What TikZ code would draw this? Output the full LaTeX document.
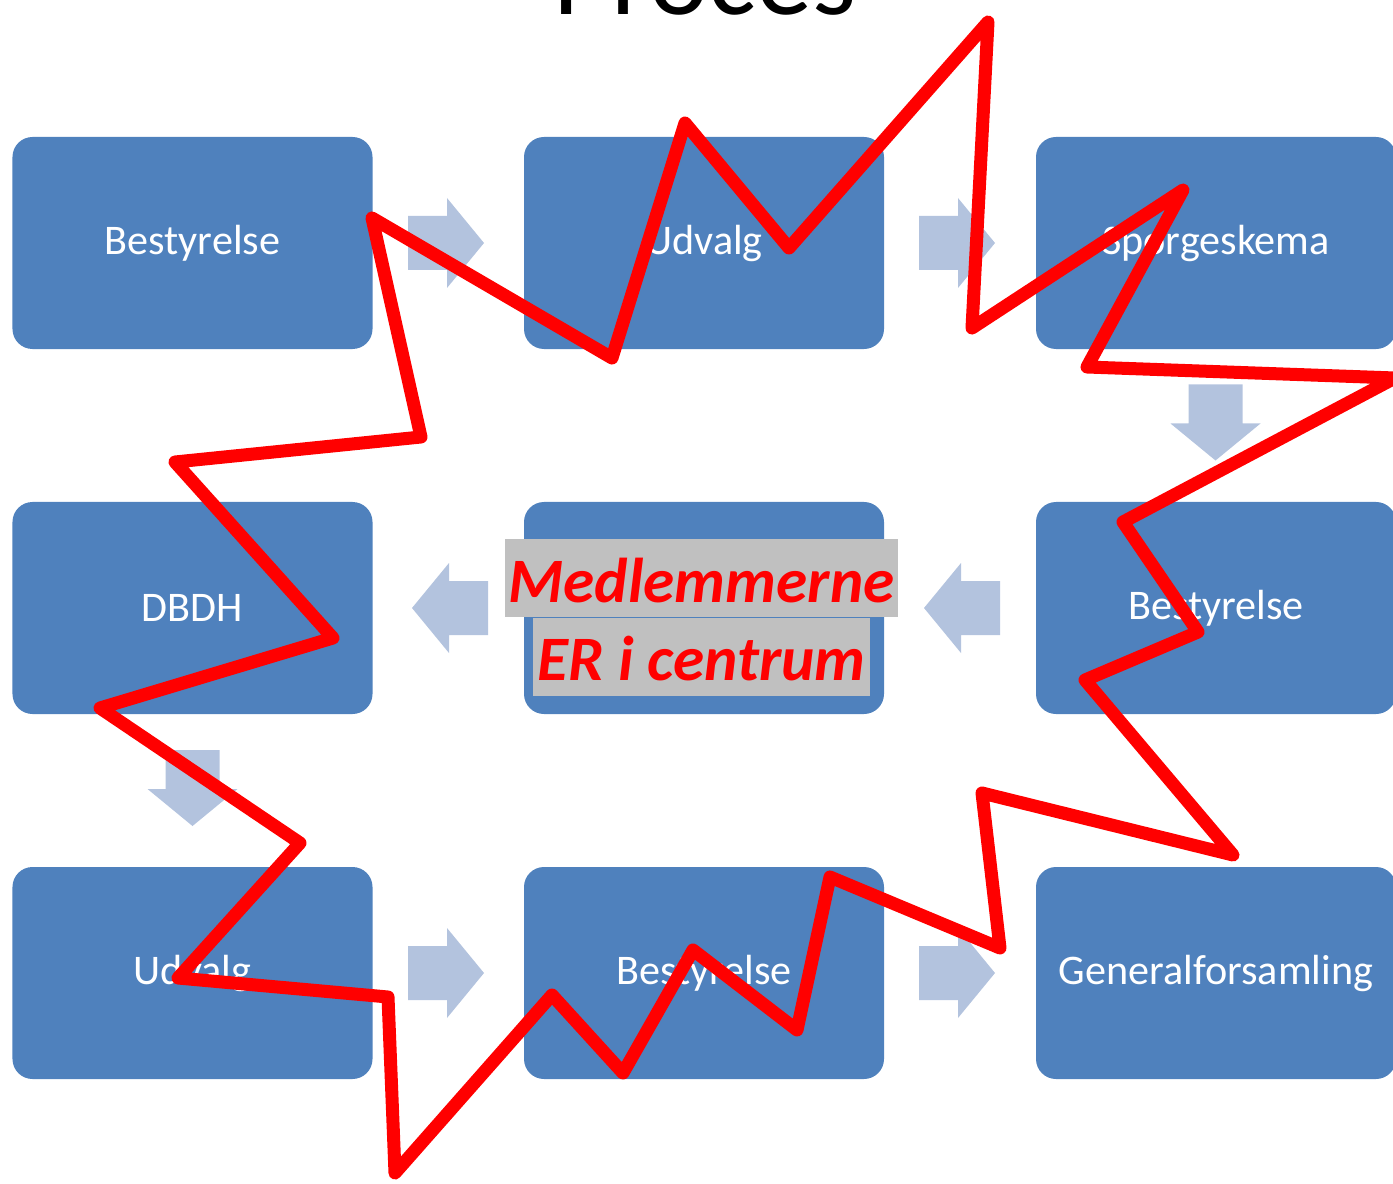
\documentclass[tikz,border=0pt]{standalone}
\usepackage{fontspec}
\setmainfont{Carlito}
\usetikzlibrary{positioning}

\definecolor{boxblue}{HTML}{4F81BD}
\definecolor{arrowblue}{HTML}{B3C3DE}
\definecolor{textgray}{HTML}{C0C0C0}

\tikzset{
  stepbox/.style={fill=boxblue, rounded corners=4mm, minimum width=7.2cm,
    minimum height=4.24cm, inner sep=0pt, text=white,
    font=\fontsize{24}{29}\selectfont},
  centreline/.style={fill=textgray, inner ysep=0pt, inner xsep=0.8mm,
    text height=1.26cm, text depth=0.3cm, text=red,
    font=\fontsize{36}{43}\selectfont\bfseries\itshape},
  starline/.style={draw=red, line width=7.4pt, line join=round},
  pics/flowarrow/.style={code={
    \fill[arrowblue] (-38,-27) -- (1,-27) -- (1,-45) -- (38,0) -- (1,45)
      -- (1,27) -- (-38,27) -- cycle;}}
}

\begin{document}
\begin{tikzpicture}[x=0.2mm, y=-0.2mm]
\useasboundingbox (0,0) rectangle (1393,1184);
\clip (0,0) rectangle (1393,1184);

\node[anchor=base, font=\fontsize{64}{70}\selectfont] (title) at (705,15) {Proces}; % title

% boxes
\node[stepbox] (b1) at (192.5,243) {Bestyrelse};
\node[stepbox] (b2) at (704,243) {Udvalg};
\node[stepbox] (b3) at (1216,243) {Spørgeskema};
\node[stepbox] (b4) at (1216,608) {Bestyrelse};
\node[stepbox] (b5) at (704,608) {};
\node[stepbox] (b6) at (192.5,608) {DBDH};
\node[stepbox] (b7) at (192.5,973) {Udvalg};
\node[stepbox] (b8) at (704,973) {Bestyrelse};
\node[stepbox] (b9) at (1216,973) {Generalforsamling};

% arrows
\pic at (446,243) {flowarrow};
\pic at (957,243) {flowarrow};
\pic[rotate=-90] at (1215.5,422.5) {flowarrow};
\pic[rotate=180] at (962,608) {flowarrow};
\pic[rotate=180] at (450,608) {flowarrow};
\pic[rotate=-90] at (192.5,788) {flowarrow};
\pic at (446,973) {flowarrow};
\pic at (957,973) {flowarrow};

% centre text
\node[centreline] (c1) at (701.5,578) {Medlemmerne};
\node[centreline, below=0pt of c1] (c2) {ER i centrum};

% star
\draw[starline] (372,218) -- (612,358) -- (685,123) -- (789,248)
  -- (988,22) -- (972,328) -- (1183,190) -- (1087,367) -- (1395,378)
  -- (1123,522) -- (1198,632) -- (1085,680) -- (1233,855) -- (982,793)
  -- (1000,948) -- (830,877) -- (797,1030) -- (693,950) -- (623,1073)
  -- (552,995) -- (395,1173) -- (388,997) -- (178,978) -- (300,843)
  -- (100,708) -- (333,638) -- (175,462) -- (421,437) -- cycle;
\end{tikzpicture}
\end{document}
